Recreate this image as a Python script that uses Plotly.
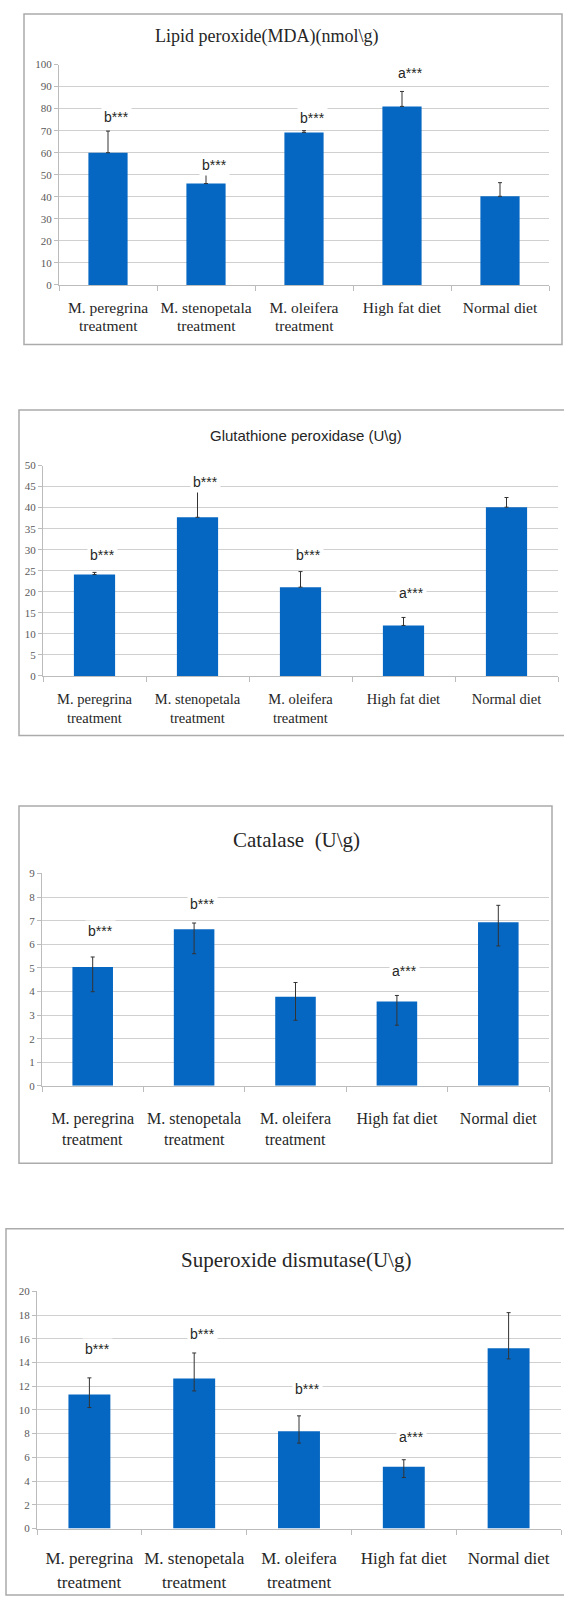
import plotly.graph_objects as go

W, H = 564, 1603

categories = ["M. peregrina", "M. stenopetala", "M. oleifera", "High fat diet", "Normal diet"]
categories_line2 = ["treatment", "treatment", "treatment", "", ""]

# Panel 1: Lipid peroxide (MDA)
mda_vals = [60, 46, 69.2, 81, 40.2]
mda_err_plus = [9.8, 4.9, 0.8, 6.8, 6.2]
mda_sig = ["b***", "b***", "b***", "a***", ""]
mda_sig_y = [76, 54.5, 75.7, 96, None]

# Panel 2: Glutathione peroxidase
gpx_vals = [24.1, 37.7, 21.1, 12.0, 40.1]
gpx_err_plus = [0.5, 6.3, 3.7, 1.9, 2.3]
gpx_sig = ["b***", "b***", "b***", "a***", ""]
gpx_sig_y = [28.8, 46.0, 28.8, 19.6, None]

# Panel 3: Catalase
cat_vals = [5.04, 6.64, 3.78, 3.57, 6.93]
cat_err_plus = [0.42, 0.26, 0.6, 0.26, 0.72]
cat_err_minus = [1.05, 1.04, 1.0, 1.0, 1.0]
cat_sig = ["b***", "b***", "", "a***", ""]
cat_sig_y = [6.55, 7.7, None, 4.87, None]

# Panel 4: Superoxide dismutase
sod_vals = [11.3, 12.65, 8.2, 5.2, 15.2]
sod_err_plus = [1.4, 2.15, 1.3, 0.6, 3.0]
sod_err_minus = [1.1, 1.05, 1.0, 0.9, 0.9]
sod_sig = ["b***", "b***", "b***", "a***", ""]
sod_sig_y = [15.1, 16.4, 11.8, 7.7, None]

BAR = "#0667c2"
GRID = "#d0d0d0"
AX = "#bcbcbc"
SERIF = "Liberation Serif, Times New Roman, serif"
SANS = "Liberation Sans, Arial, sans-serif"

panels = [
    dict(vals=mda_vals, ep=mda_err_plus, em=None, sig=mda_sig, sig_y=mda_sig_y,
         title="Lipid peroxide(MDA)(nmol\\g)", tfont=SERIF, tsize=18, tx=266, ty=31,
         box=(24, 8, 562, 341), plot=(59, 59, 549, 281), rng=100, dt=10,
         lsize=15.5, l1=301, l2=322),
    dict(vals=gpx_vals, ep=gpx_err_plus, em=None, sig=gpx_sig, sig_y=gpx_sig_y,
         title="Glutathione peroxidase (U\\g)", tfont=SANS, tsize=15, tx=306, ty=433,
         box=(19, 407, 566, 735), plot=(43, 463, 558, 675), rng=50, dt=5,
         lsize=14.5, l1=695, l2=717),
    dict(vals=cat_vals, ep=cat_err_plus, em=cat_err_minus, sig=cat_sig, sig_y=cat_sig_y,
         title="Catalase  (U\\g)", tfont=SERIF, tsize=21, tx=296, ty=840,
         box=(19, 806, 552, 1166), plot=(42, 874, 549, 1088), rng=9, dt=1,
         lsize=16, l1=1117, l2=1142),
    dict(vals=sod_vals, ep=sod_err_plus, em=sod_err_minus, sig=sod_sig, sig_y=sod_sig_y,
         title="Superoxide dismutase(U\\g)", tfont=SERIF, tsize=21, tx=296, ty=1263,
         box=(6, 1232, 566, 1601), plot=(37, 1295, 561, 1534), rng=20, dt=2,
         lsize=17, l1=1560, l2=1588),
]

fig = go.Figure()
shapes = []
annotations = []


def px(x):
    return x / W


def py(y):
    return 1 - y / H


for i, p in enumerate(panels):
    n = "" if i == 0 else str(i + 1)
    err = dict(type="data", array=p["ep"], visible=True, color="#333333",
               thickness=1, width=2, symmetric=False,
               arrayminus=p["em"] if p["em"] is not None else [0] * len(p["ep"]))
    fig.add_trace(go.Bar(x=categories, y=p["vals"], marker_color=BAR,
                         marker_line_width=0, width=0.4, error_y=err,
                         xaxis="x" + n, yaxis="y" + n, showlegend=False))
    x0, y0, x1, y1 = p["plot"]
    lab_font = dict(family=SERIF, size=p["lsize"], color="#262626")
    standoff = int(round(max(0, (p["l1"] - y1) - 5 - p["lsize"] * 0.5 + 2)))
    fig.update_layout(**{
        "xaxis" + n: dict(domain=[px(x0), px(x1)], anchor="y" + n,
                          type="category", showgrid=False, showline=True,
                          linecolor=AX, linewidth=1, ticks="outside",
                          tickson="boundaries", ticklen=5, tickcolor=AX,
                          ticklabelstandoff=standoff, tickangle=0,
                          tickfont=lab_font, fixedrange=True),
        "yaxis" + n: dict(domain=[py(y1), py(y0)], anchor="x" + n,
                          range=[0, p["rng"]], dtick=p["dt"], tick0=0,
                          showgrid=True, gridcolor=GRID, gridwidth=1,
                          showline=True, linecolor=AX, linewidth=1,
                          ticks="outside", ticklen=4, tickcolor=AX,
                          zeroline=False,
                          tickfont=dict(family=SERIF, size=11, color="#595959"),
                          fixedrange=True),
    })
    for c, t2 in zip(categories, categories_line2):
        if t2:
            annotations.append(dict(text=t2, xref="x" + n, yref="paper", x=c,
                                    y=py(p["l2"]), xanchor="center", yanchor="middle",
                                    showarrow=False, font=lab_font))
    bx0, by0, bx1, by1 = p["box"]
    shapes.append(dict(type="rect", xref="paper", yref="paper",
                       x0=px(bx0), x1=px(bx1), y0=py(by1), y1=py(by0),
                       line=dict(color="#ababab", width=1.5), layer="below"))
    annotations.append(dict(text=p["title"], xref="paper", yref="paper",
                            x=px(p["tx"]), y=py(p["ty"]), xanchor="center",
                            yanchor="middle", showarrow=False,
                            font=dict(family=p["tfont"], size=p["tsize"], color="#262626")))
    for c, s, sy in zip(categories, p["sig"], p["sig_y"]):
        if s and sy is not None:
            annotations.append(dict(text=s, xref="x" + n, yref="y" + n, x=c, y=sy,
                                    xanchor="center", yanchor="middle", xshift=8,
                                    showarrow=False, bgcolor="white", borderpad=2,
                                    font=dict(family=SANS, size=14, color="#262626")))

fig.update_layout(width=W, height=H, margin=dict(l=0, r=0, t=0, b=0),
                  paper_bgcolor="white", plot_bgcolor="white",
                  bargap=0.6, shapes=shapes, annotations=annotations)

fig.write_html("out.html")
